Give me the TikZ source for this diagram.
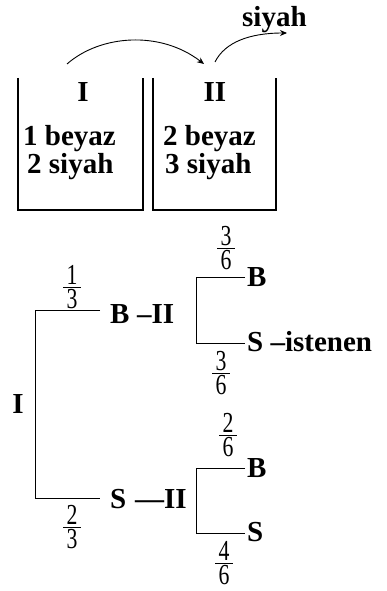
\documentclass[tikz,border=0pt]{standalone}
\usepackage{fontspec}
\usepackage{graphicx}
\setmainfont{Liberation Serif}
\usetikzlibrary{arrows.meta}
\newcommand{\dg}[1]{\scalebox{0.75}[1]{#1}}
\newcommand{\fracat}[5]{%
  \node[fnum, anchor=south] (#1n) at (#2,#3-2) {\dg{#4}};
  \node[fnum, anchor=north] (#1d) at (#2,#3+2.5) {\dg{#5}};
  \coordinate (#1l) at (#2-9,#3);
  \coordinate (#1r) at (#2+9,#3);
  \draw[fbar] (#1l) -- (#1r);}
\begin{document}
\begin{tikzpicture}[x=1pt,y=-1pt,
  lbl/.style={inner sep=0pt, font=\fontsize{29}{31}\selectfont\bfseries, anchor=base west},
  fnum/.style={inner sep=0pt, font=\fontsize{29}{30}\selectfont},
  fbar/.style={line width=0.9pt},
  ln/.style={line width=1pt},
  boxline/.style={line width=1.3pt},
  arr/.style={line width=0.9pt, -{Stealth[length=7pt,width=6pt]}}]
\useasboundingbox (0,0) rectangle (387,591);
% urns
\draw[boxline] (18,78) -- (18,210) -- (143,210) -- (143,78);
\draw[boxline] (153,78) -- (153,210) -- (276,210) -- (276,78);
\node[lbl, anchor=base] (boxI) at (83,102) {I};
\node[lbl, anchor=base] (boxII) at (215,102) {II};
\node[lbl] (w1) at (23,146) {1 beyaz};
\node[lbl] (k1) at (27,173) {2 siyah};
\node[lbl] (w2) at (163,146) {2 beyaz};
\node[lbl] (k2) at (165,173) {3 siyah};
\node[lbl] (out) at (242,27) {siyah};
% arrows
\coordinate (a1s) at (67,64);
\coordinate (a1e) at (204,64);
\draw[arr] (a1s) .. controls (100,35) and (160,30) .. (a1e);
\coordinate (a2s) at (215,62);
\coordinate (a2e) at (287,33);
\draw[arr] (a2s) .. controls (225,42) and (250,33) .. (a2e);
% tree: first stage
\coordinate (r1) at (35,310);
\coordinate (r2) at (35,498);
\coordinate (r1e) at (100,310);
\coordinate (r2e) at (100,498);
\draw[ln] (r1e) -- (r1) -- (r2) -- (r2e);
\node[lbl, anchor=base] (root) at (18,413) {I};
\fracat{fa}{72}{287}{1}{3}
\fracat{fb}{72}{527}{2}{3}
\node[lbl] (B1) at (110,323) {B};
\node[lbl] (II1) at (137,323) {–II};
\node[lbl] (S1) at (110,508) {S};
\node[lbl] (II2) at (135,508) {—II};
% upper subtree
\coordinate (u1) at (196,277);
\coordinate (u2) at (196,343);
\coordinate (u1e) at (245,277);
\coordinate (u2e) at (245,343);
\draw[ln] (u1e) -- (u1) -- (u2) -- (u2e);
\node[lbl] (BB) at (247,286) {B};
\node[lbl] (BS) at (247,351) {S –istenen};
\fracat{fc}{226}{248}{3}{6}
\fracat{fd}{221}{373}{3}{6}
% lower subtree
\coordinate (l1) at (196,468);
\coordinate (l2) at (196,533);
\coordinate (l1e) at (245,468);
\coordinate (l2e) at (245,533);
\draw[ln] (l1e) -- (l1) -- (l2) -- (l2e);
\node[lbl] (SB) at (247,477) {B};
\node[lbl] (SS) at (247,541) {S};
\fracat{fe}{228}{435}{2}{6}
\fracat{ff}{224}{563}{4}{6}
\end{tikzpicture}
\end{document}
